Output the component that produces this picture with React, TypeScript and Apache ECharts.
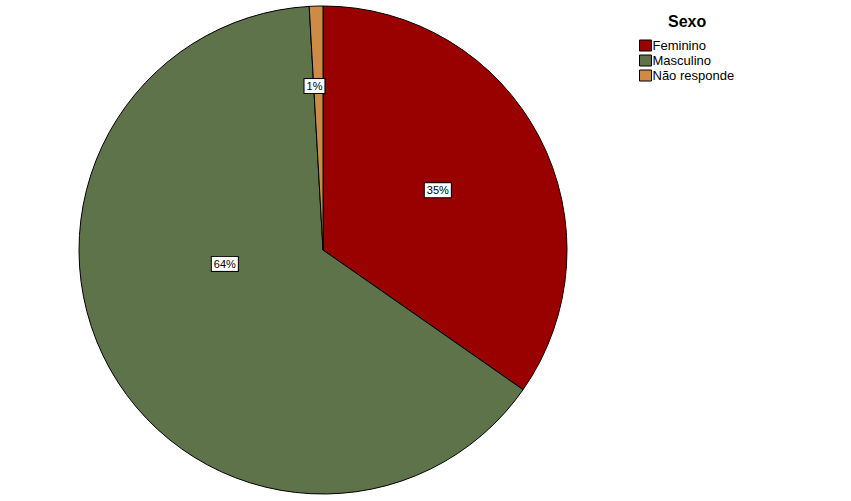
import React, { useEffect, useRef } from "react";
import * as echarts from "echarts";

const categories = ["Feminino", "Masculino", "Não responde"];
const values = [34.7, 64.4, 0.9];
const colors = ["#990000", "#5F734B", "#D08A48"];
const labelOffsets = [[4, -2], [11, -47], [-5, -39]];

export default function App() {
  const ref = useRef<HTMLDivElement>(null);
  useEffect(() => {
    document.body.style.margin = "0";
    const chart = echarts.init(ref.current!, null, { renderer: "svg" });
    chart.setOption({
      animation: false,
      backgroundColor: "#ffffff",
      title: {
        text: "Sexo",
        left: 668,
        top: 13,
        padding: 0,
        textStyle: { fontFamily: "Liberation Sans", fontWeight: "bold", fontSize: 16, color: "#000" },
      },
      legend: {
        orient: "vertical",
        left: 639,
        top: 39,
        padding: 0,
        icon: "rect",
        itemWidth: 12,
        itemHeight: 11,
        itemGap: 2,
        data: categories,
        textStyle: { fontFamily: "Liberation Sans", fontSize: 13, lineHeight: 11, color: "#000", padding: [0, 0, 0, -4] },
        itemStyle: { borderColor: "#000", borderWidth: 1 },
      },
      series: [
        {
          type: "pie",
          center: [323, 250],
          radius: [0, 244],
          startAngle: 90,
          clockwise: true,
          label: {
            position: "inside",
            formatter: (p: any) => Math.round(p.percent) + "%",
            backgroundColor: "#fff",
            borderColor: "#000",
            borderWidth: 1,
            padding: [2, 2, 1, 2],
            color: "#000",
            fontFamily: "Liberation Sans",
            fontSize: 11,
          },
          labelLine: { show: false },
          emphasis: { disabled: true },
          itemStyle: { borderColor: "#000", borderWidth: 1 },
          data: categories.map((c, i) => ({
            name: c,
            value: values[i],
            itemStyle: { color: colors[i] },
            label: { offset: labelOffsets[i] },
          })),
        },
      ],
    });
    return () => chart.dispose();
  }, []);
  return <div ref={ref} style={{ width: 851, height: 501 }} />;
}
